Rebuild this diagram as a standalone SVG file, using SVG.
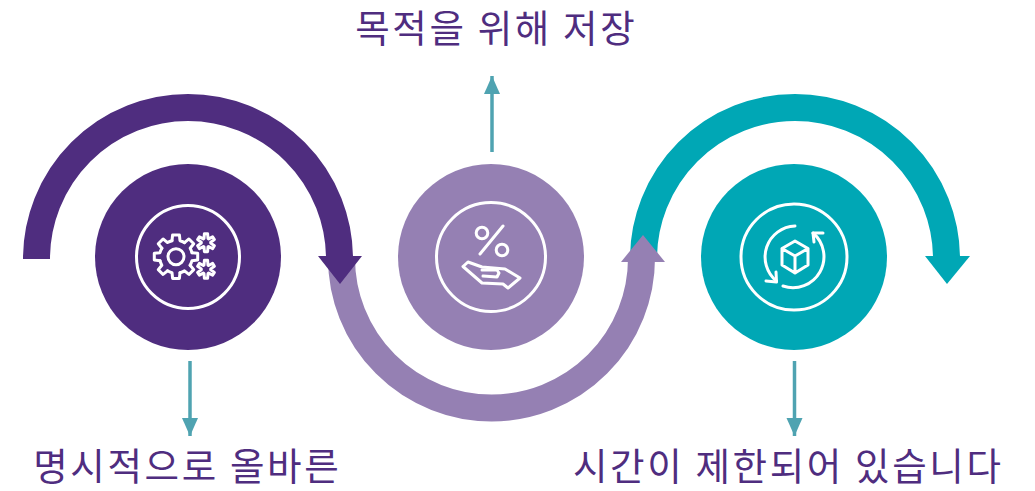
<svg xmlns="http://www.w3.org/2000/svg" width="1035" height="491" viewBox="0 0 1035 491">
<style>
.t{font-family:"Noto Sans CJK KR","Noto Sans",sans-serif;font-size:37.500px;letter-spacing:2.650px;fill:#4F2D7F;text-anchor:middle}
.i{fill:none;stroke:#fff;stroke-width:3;stroke-linejoin:round;stroke-linecap:round}
.c{fill:none;stroke:#4FA3B1;stroke-width:3.500}
.r{fill:none;stroke-width:27}
</style>
<defs>
<marker id="a" markerUnits="userSpaceOnUse" markerWidth="18" markerHeight="18" refX="18" refY="8" orient="auto"><path d="M0 0L18 8L0 16Z" fill="#4FA3B1"/></marker>
<path id="tooth" d="M-4 -16L-3.400 -21.700H3.400L4 -16A16.500 16.500 0 0 1 8.500 -14.100"/>
<path id="star" d="M-2 -4.200L-1.600 -9H1.600L2 -4.200L2.640 -3.830M-2 -4.200L-2.640 -3.830L-6.600 -5.900L-8.400 -3.100L-4.700 -0.400M2.640 -3.830L6.600 -5.900L8.400 -3.100L4.700 -0.400L4.700 0.400L8.400 3.100L6.600 5.900L2.640 3.830L2 4.200L1.600 9H-1.600L-2 4.200L-2.640 3.830L-6.600 5.900L-8.400 3.100L-4.700 0.400V-0.400"/>
</defs>
<rect width="1035" height="491" fill="#fff"/>
<g id="connectors">
<path class="r" stroke="#00A7B5" d="M643.500 259A151.500 151.500 0 0 1 946.500 259"/>
<path fill="#00A7B5" d="M925 256H970L947 284Z"/>
<path class="r" stroke="#9580B3" d="M341.500 258A150 150 0 0 0 641.500 258"/>
<path fill="#9580B3" d="M621 262H665L643 235Z"/>
<path class="r" stroke="#4F2D7F" d="M36.500 259A151.500 151.500 0 0 1 339.500 259"/>
<path fill="#4F2D7F" d="M318 256H362L340 284Z"/>
<path class="c" d="M492 152V76" marker-end="url(#a)"/>
<path class="c" d="M190 361V436" marker-end="url(#a)"/>
<path class="c" d="M794.500 361V436" marker-end="url(#a)"/>
</g>
<g id="node-1">
<circle cx="188" cy="257" r="93" fill="#4F2D7F"/>
<circle class="i" cx="188" cy="257" r="51.500"/>
<circle class="i" cx="176" cy="256.700" r="8"/>
<g class="i" transform="translate(176 256.700)">
<use href="#tooth"/><use href="#tooth" transform="rotate(45)"/><use href="#tooth" transform="rotate(90)"/><use href="#tooth" transform="rotate(135)"/><use href="#tooth" transform="rotate(180)"/><use href="#tooth" transform="rotate(225)"/><use href="#tooth" transform="rotate(270)"/><use href="#tooth" transform="rotate(315)"/>
</g>
<use class="i" href="#star" x="206" y="242.700"/>
<use class="i" href="#star" x="206" y="269.300"/>
</g>
<g id="node-2">
<circle cx="491" cy="257" r="93" fill="#9580B3"/>
<circle class="i" cx="491" cy="257" r="54.500"/>
<circle class="i" cx="482" cy="233" r="5.800"/>
<circle class="i" cx="502" cy="250" r="5.800"/>
<path class="i" d="M503 226L480 254"/>
<path class="i" d="M463 266.500L468 262L482 267L505 269L520 278L508 288L503 284L482 283Z"/>
<path class="i" d="M482 270H497L499 273L497 277L483 276"/>
</g>
<g id="node-3">
<circle cx="794" cy="257" r="93" fill="#00A7B5"/>
<circle class="i" cx="794" cy="257" r="53"/>
<path class="i" d="M795 241L808 248.500V265L795 273L782 265V248.500ZM782 248.500L795 256L808 248.500M795 256V273"/>
<path class="i" d="M813 233A31 31 0 0 1 783 286"/>
<path class="i" d="M823 233H813L814 242"/>
<path class="i" d="M795 226A31 31 0 0 0 776.500 281"/>
<path class="i" d="M766 281L776.500 282L776 272"/>
</g>
<g id="label-1"><text class="t" x="187.300" y="480">명시적으로 올바른</text></g>
<g id="label-2"><text class="t" x="496.300" y="42">목적을 위해 저장</text></g>
<g id="label-3"><text class="t" x="788.300" y="480">시간이 제한되어 있습니다</text></g>
</svg>
